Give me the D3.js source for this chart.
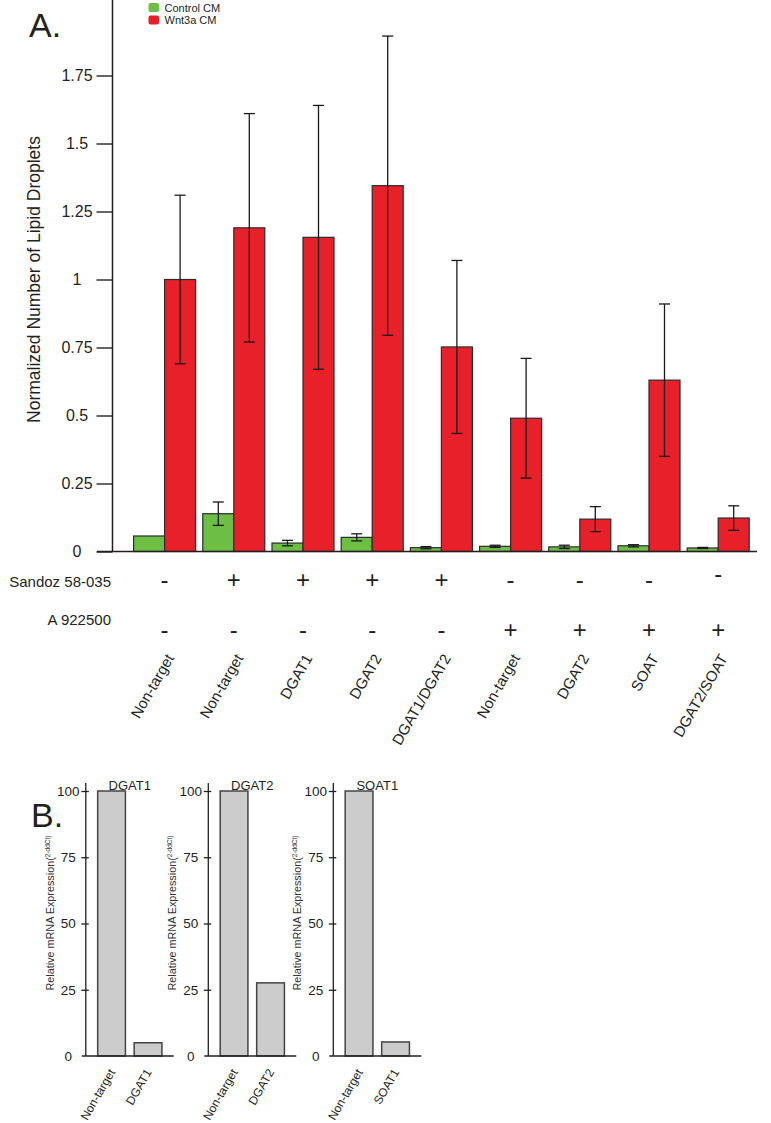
<!DOCTYPE html>
<html>
<head>
<meta charset="utf-8">
<script src="https://cdn.jsdelivr.net/npm/d3@7"></script>
<style>
  html, body { margin: 0; padding: 0; background: #fff; }
  svg { display: block; font-family: "Liberation Sans", Arial, Helvetica, sans-serif; }
</style>
</head>
<body>
<svg id="chart" width="771" height="1123"></svg>
<script>
// ---------- Panel A data ----------
const groups = ["Non-target","Non-target","DGAT1","DGAT2","DGAT1/DGAT2","Non-target","DGAT2","SOAT","DGAT2/SOAT"];
const sandoz = ["-","+","+","+","+","-","-","-","-"];
const a922500 = ["-","-","-","-","-","+","+","+","+"];
const seriesNames = ["Control CM","Wnt3a CM"];
const controlMean = [0.057,0.139,0.031,0.052,0.014,0.019,0.017,0.021,0.013];
const controlErr  = [0,0.043,0.010,0.013,0.004,0.004,0.006,0.004,0.002];
const wntMean     = [1.0,1.19,1.155,1.345,0.752,0.49,0.119,0.63,0.123];
const wntErr      = [0.31,0.42,0.485,0.55,0.318,0.22,0.046,0.28,0.045];
const yTicksA = [0,0.25,0.5,0.75,1,1.25,1.5,1.75];
const yTickLabelsA = ["0","0.25","0.5","0.75","1","1.25","1.5","1.75"];

// ---------- Panel B data ----------
const panelBTitles = ["DGAT1","DGAT2","SOAT1"];
const panelBCats = [["Non-target","DGAT1"],["Non-target","DGAT2"],["Non-target","SOAT1"]];
const panelBValues = [[100,5],[100,27.6],[100,5.3]];
const yTicksB = [0,25,50,75,100];

const colors = {"Control CM":"#6cbe45","Wnt3a CM":"#e8202a"};

const svg = d3.select("#chart");

// ================= PANEL A =================
const axisX = 112.5, baseY = 551.5;
const yA = d3.scaleLinear().domain([0, 2.0276]).range([baseY, 0]);
const xA = d3.scaleBand().domain(d3.range(groups.length)).range([130, 752.8]).paddingInner(0.104).paddingOuter(0.052);
const xSub = d3.scaleBand().domain(seriesNames).range([0, xA.bandwidth()]);

const gA = svg.append("g");

// panel letter
svg.append("text").attr("x", 29).attr("y", 37).attr("font-size", 34).attr("fill", "#231f20").text("A.");

// legend
const legend = svg.append("g");
seriesNames.forEach((s, i) => {
  legend.append("rect").attr("x", 148.5).attr("y", 3 + i * 12.5).attr("width", 10.5).attr("height", 9)
    .attr("rx", 2).attr("fill", colors[s]);
  legend.append("text").attr("x", 164.5).attr("y", 11.5 + i * 12.5).attr("font-size", 11)
    .attr("fill", "#231f20").text(s);
});

// bars
const barData = [];
groups.forEach((g, i) => {
  barData.push({i, s: "Control CM", v: controlMean[i], e: controlErr[i]});
  barData.push({i, s: "Wnt3a CM", v: wntMean[i], e: wntErr[i]});
});

gA.selectAll("rect.bar").data(barData).join("rect")
  .attr("class", "bar")
  .attr("x", d => xA(d.i) + xSub(d.s))
  .attr("y", d => yA(d.v))
  .attr("width", xSub.bandwidth())
  .attr("height", d => yA(0) - yA(d.v))
  .attr("fill", d => colors[d.s])
  .attr("stroke", "#2b2b2b")
  .attr("stroke-width", 1.2);

// error bars
const capW = 11;
const errG = gA.selectAll("g.err").data(barData.filter(d => d.e > 0)).join("g").attr("class", "err")
  .attr("stroke", "#1a1a1a").attr("stroke-width", 1.3);
errG.append("line")
  .attr("x1", d => xA(d.i) + xSub(d.s) + xSub.bandwidth() / 2)
  .attr("x2", d => xA(d.i) + xSub(d.s) + xSub.bandwidth() / 2)
  .attr("y1", d => yA(d.v + d.e)).attr("y2", d => yA(d.v - d.e));
errG.append("line")
  .attr("x1", d => xA(d.i) + xSub(d.s) + xSub.bandwidth() / 2 - capW / 2)
  .attr("x2", d => xA(d.i) + xSub(d.s) + xSub.bandwidth() / 2 + capW / 2)
  .attr("y1", d => yA(d.v + d.e)).attr("y2", d => yA(d.v + d.e));
errG.append("line")
  .attr("x1", d => xA(d.i) + xSub(d.s) + xSub.bandwidth() / 2 - capW / 2)
  .attr("x2", d => xA(d.i) + xSub(d.s) + xSub.bandwidth() / 2 + capW / 2)
  .attr("y1", d => yA(d.v - d.e)).attr("y2", d => yA(d.v - d.e));

// y axis
const yAxisA = d3.axisLeft(yA).tickValues(yTicksA).tickSize(16).tickFormat((d, i) => yTickLabelsA[i]);
const yAxG = svg.append("g").attr("transform", `translate(${axisX},0)`).call(yAxisA);
yAxG.select(".domain").remove();
yAxG.selectAll(".tick line").attr("stroke", "#333").attr("stroke-width", 1.5);
yAxG.selectAll(".tick text").attr("x", -35.5).attr("text-anchor", "middle").attr("font-size", 16)
  .attr("fill", "#231f20").attr("font-family", "Liberation Sans, Arial, sans-serif");
svg.append("line").attr("x1", axisX).attr("x2", axisX).attr("y1", 0).attr("y2", baseY)
  .attr("stroke", "#231f20").attr("stroke-width", 1.5);
// baseline
svg.append("line").attr("x1", 97).attr("x2", 757).attr("y1", baseY).attr("y2", baseY)
  .attr("stroke", "#231f20").attr("stroke-width", 1.5);

// y label
svg.append("text").attr("transform", `translate(40,${yA(1.0)}) rotate(-90)`)
  .attr("text-anchor", "middle").attr("font-size", 17.5).attr("fill", "#231f20")
  .text("Normalized Number of Lipid Droplets");

// treatment rows
svg.append("text").attr("x", 111).attr("y", 586.5).attr("text-anchor", "end").attr("font-size", 15)
  .attr("fill", "#231f20").text("Sandoz 58-035");
svg.append("text").attr("x", 111).attr("y", 625).attr("text-anchor", "end").attr("font-size", 15)
  .attr("fill", "#231f20").text("A 922500");
const cx = i => xA(i) + xA.bandwidth() / 2;
svg.selectAll("text.s1").data(sandoz).join("text").attr("class", "s1")
  .attr("x", (d, i) => cx(i)).attr("y", (d, i) => i === sandoz.length - 1 ? 582 : 588).attr("text-anchor", "middle")
  .attr("font-size", 24).attr("fill", "#231f20").text(d => d);
svg.selectAll("text.s2").data(a922500).join("text").attr("class", "s2")
  .attr("x", (d, i) => cx(i)).attr("y", 638).attr("text-anchor", "middle")
  .attr("font-size", 24).attr("fill", "#231f20").text(d => d);

// x labels (rotated)
svg.selectAll("text.xl").data(groups).join("text").attr("class", "xl")
  .attr("transform", (d, i) => `translate(${cx(i) + 10},658) rotate(-60)`)
  .attr("text-anchor", "end").attr("font-size", 15).attr("fill", "#231f20").text(d => d);

// ================= PANEL B =================
svg.append("text").attr("x", 31).attr("y", 827).attr("font-size", 34).attr("fill", "#231f20").text("B.");

const yB = d3.scaleLinear().domain([0, 100]).range([1056, 791]);
const panelAxisX = [85.8, 208.3, 333.3];

panelBTitles.forEach((title, p) => {
  const ax = panelAxisX[p];
  const g = svg.append("g");
  const xB = d3.scaleBand().domain(panelBCats[p]).range([ax + 7.5, ax + 80.5]).paddingInner(0.24).paddingOuter(0.12);
  // bars
  g.selectAll("rect").data(panelBCats[p].map((c, j) => ({c, v: panelBValues[p][j]}))).join("rect")
    .attr("x", d => xB(d.c)).attr("y", d => yB(d.v))
    .attr("width", xB.bandwidth()).attr("height", d => yB(0) - yB(d.v))
    .attr("fill", "#cccccc").attr("stroke", "#444").attr("stroke-width", 1.5);
  // axis
  const yAx = d3.axisLeft(yB).tickValues(yTicksB).tickSize(0).tickFormat(d3.format("d"));
  const ag = g.append("g").attr("transform", `translate(${ax},0)`).call(yAx);
  ag.select(".domain").remove();
  ag.selectAll(".tick line").remove();
  ag.selectAll(".tick").filter(d => d !== 0).append("line")
    .attr("x1", -4.5).attr("x2", 3).attr("stroke", "#231f20").attr("stroke-width", 1.3);
  ag.selectAll(".tick text").attr("x", -17.5).attr("text-anchor", "middle").attr("font-size", 13.5)
    .attr("fill", "#231f20").attr("font-family", "Liberation Sans, Arial, sans-serif");
  g.append("line").attr("x1", ax).attr("x2", ax).attr("y1", 783).attr("y2", yB(0))
    .attr("stroke", "#231f20").attr("stroke-width", 1.3);
  g.append("line").attr("x1", ax - 4).attr("x2", ax + 88).attr("y1", yB(0)).attr("y2", yB(0))
    .attr("stroke", "#231f20").attr("stroke-width", 1.5);
  // title
  g.append("text").attr("x", ax + 44).attr("y", 789.5).attr("text-anchor", "middle")
    .attr("font-size", 13).attr("fill", "#231f20").text(title);
  // y label
  const yl = g.append("text").attr("transform", `translate(${ax - 32},913) rotate(-90)`)
    .attr("text-anchor", "middle").attr("font-size", 10.8).attr("fill", "#333");
  yl.append("tspan").text("Relative mRNA Expression(");
  yl.append("tspan").attr("font-size", 6.5).attr("dy", -4).text("2-ddCt)");
  // x labels
  g.selectAll("text.bx").data(panelBCats[p]).join("text").attr("class", "bx")
    .attr("transform", d => `translate(${xB(d) + xB.bandwidth() / 2 + 4},1072) rotate(-60)`)
    .attr("text-anchor", "end").attr("font-size", 12).attr("fill", "#231f20").text(d => d);
});
</script>
</body>
</html>
